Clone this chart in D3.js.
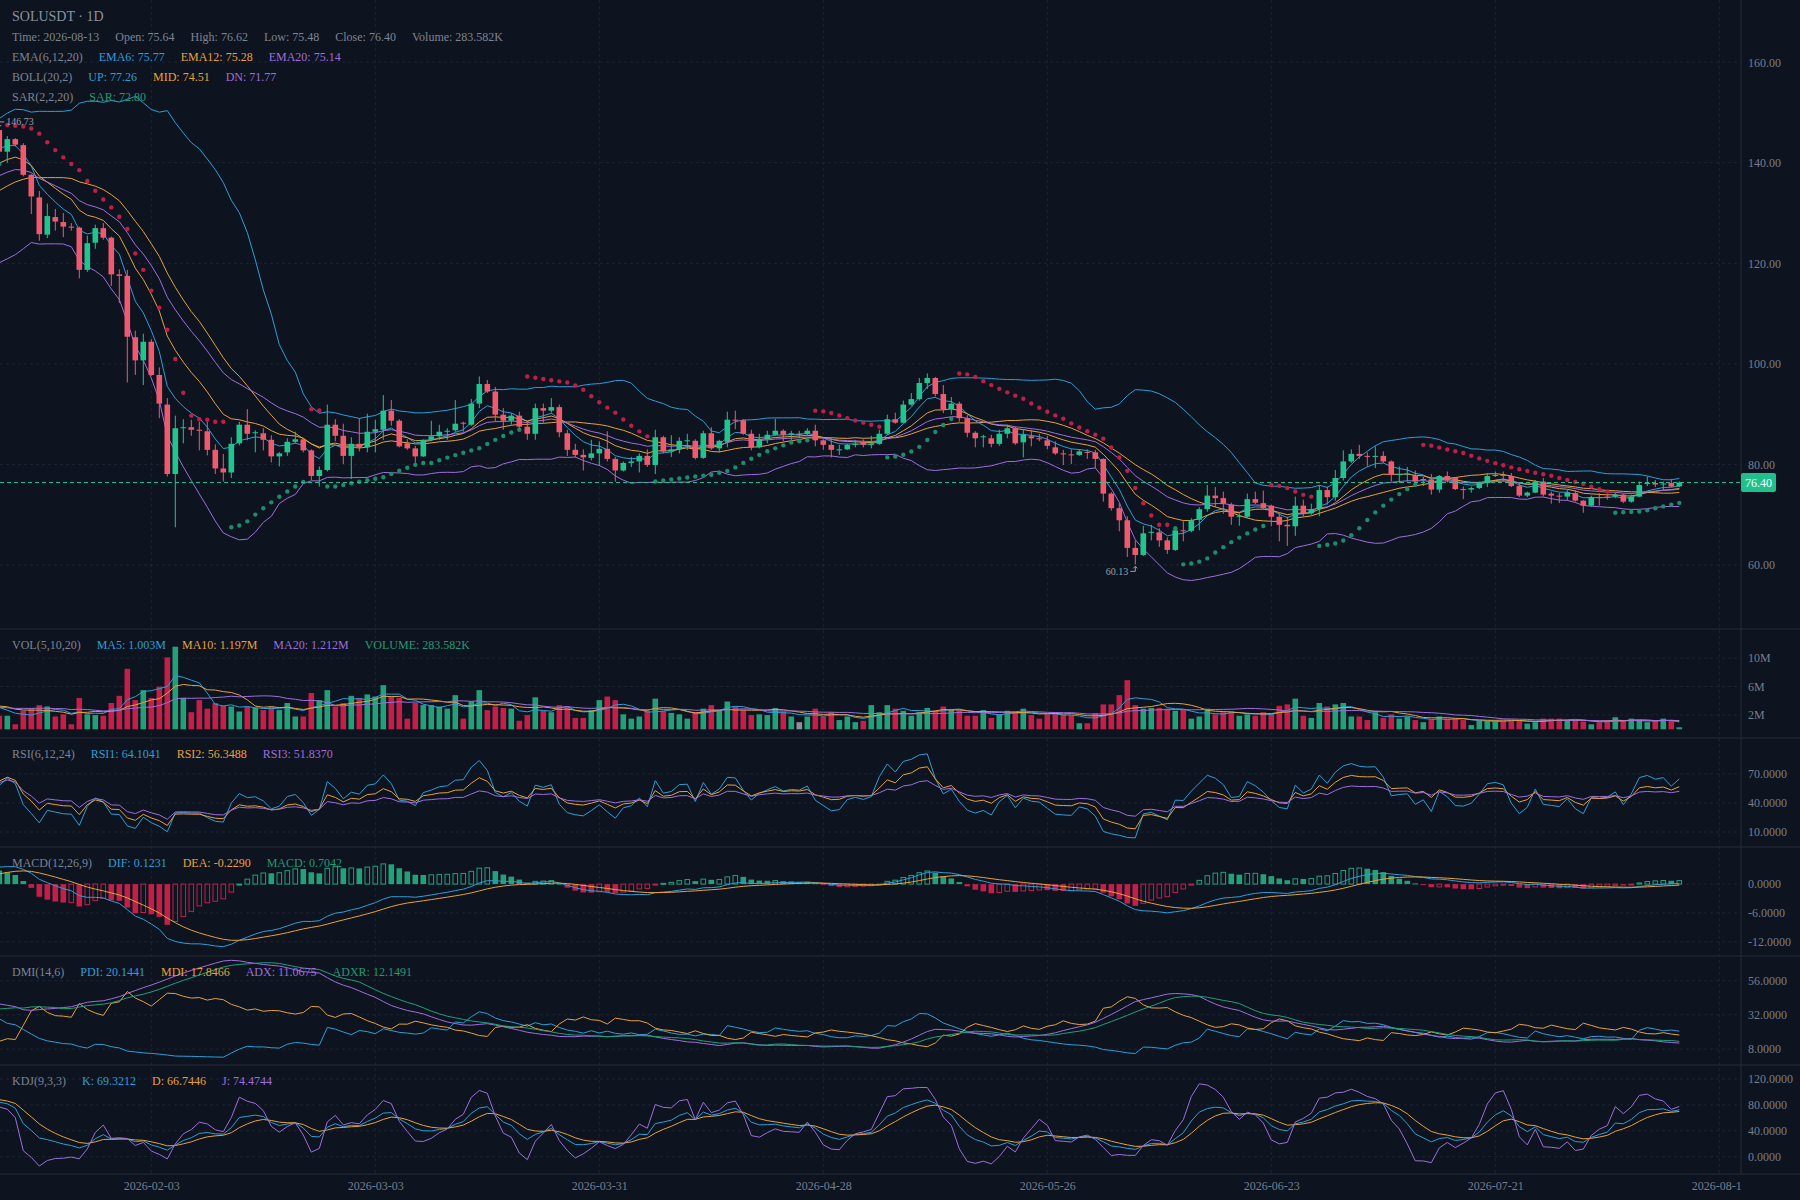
<!DOCTYPE html>
<html>
<head>
<meta charset="utf-8">
<script src="https://cdn.jsdelivr.net/npm/d3@7/dist/d3.min.js"></script>
<style>
  body { margin: 0; background: #0e1320; }
  svg { display: block; font-family: "Liberation Serif", serif; }
</style>
</head>
<body>
<svg id="chart" width="1800" height="1200"></svg>
<script>
// daily bars, first one on startDate (the first 36 sit left of the visible window)
var startDate = "2025-12-11";

var open = [133.2,134.0,135.2,133.8,136.1,137.0,135.5,134.2,135.8,133.1,131.6,132.4,130.5,129.2,130.8,128.6,127.4,126.3,127.7,126.9,
  125.6,127.3,129.1,128.3,127.5,130.2,132.3,131.9,136.1,138.8,138.2,141.5,144.3,143.2,145.5,146.5,
  142.2,144.7,143.5,137.6,133.1,125.7,129.2,128.2,127.3,127.1, 118.7,124.1,127.0,125.1,117.8,117.5,105.3,100.7,104.4,97.8,
  91.9,78.1,87.2,87.4,86.9,86.6,82.9,79.2,78.4,84.2, 87.9,86.3,86.2,84.9,81.6,82.4,84.5,85.0,82.8,77.7,
  78.9,87.9,85.7,81.7,84.1,83.4,86.5,86.9,90.7,88.7, 84.2,83.2,81.6,84.9,85.6,86.5,86.8,88.3,87.9,92.1,
  96.0,94.5,89.9,88.7,89.7,87.5,86.1,91.2,90.7,91.4, 86.2,82.9,81.9,81.3,82.2,83.1,81.1,78.8,80.3,80.6,
  81.7,79.9,85.4,82.6,83.0,84.6,84.7,81.3,86.2,83.2, 84.5,88.9,88.8,86.1,83.4,85.0,85.9,86.7,86.0,86.1,
  86.1,86.7,84.8,83.9,82.9,83.0,83.9,84.4,84.0,84.1, 86.1,89.0,88.3,91.9,93.0,96.2,97.2,94.0,91.0,92.1,
  89.2,86.3,85.4,85.2,84.1,86.1,87.2,84.4,85.6,85.2, 84.8,83.4,82.2,82.0,81.9,82.5,82.4,81.1,74.2,71.3,
  68.9,63.4,62.0,66.4,66.5,64.9,63.0,66.9,66.8,69.0, 71.1,73.8,73.3,72.0,69.6,69.6,73.1,72.3,71.8,69.6,
  68.0,67.7,71.8,70.3,71.1,74.9,73.5,77.3,80.6,82.1, 81.7,81.6,81.7,80.6,77.9,78.0,77.9,77.0,77.0,75.0,
  77.7,77.3,75.1,75.0,75.3,76.3,77.7,77.9,77.7,75.7, 73.8,74.4,76.6,74.2,73.8,73.6,74.3,72.8,71.8,73.5,
  73.6,73.6,74.0,72.6,73.6,76.2,76.3,76.1,76.3,75.64];
var high = [135.1,136.0,135.9,136.8,138.2,137.6,136.1,136.5,136.2,133.9,133.3,133.0,131.2,131.7,131.4,129.5,128.2,128.6,128.4,127.5,
  128.1,130.0,129.8,129.0,131.0,133.1,133.0,136.9,139.6,139.9,142.3,145.0,145.1,146.2,147.5,146.73,
  145.3,144.9,143.9,137.8,134.4,131.9,130.8,130.0,128.0,127.3, 125.5,127.7,128.0,125.3,118.8,118.7,106.6,106.0,104.9,99.3,
  93.2,89.7,89.0,88.9,88.5,88.5,84.0,82.1,85.4,88.5, 91.0,86.8,87.2,85.8,82.5,85.2,86.5,85.2,83.0,79.6,
  91.9,89.0,88.1,85.4,89.2,90.1,88.9,93.8,92.8,89.0, 85.0,83.7,85.0,88.7,87.9,87.2,92.8,88.5,93.0,97.5,
  96.8,95.4,91.2,90.2,90.5,88.7,92.1,92.1,93.2,91.9, 86.9,84.1,83.0,84.9,84.6,86.6,81.5,80.6,81.5,82.2,
  83.0,86.9,85.7,85.8,85.4,86.1,85.0,86.7,87.4,84.9, 90.5,90.7,89.0,86.9,86.1,86.7,89.1,87.0,86.7,86.7,
  87.2,87.9,85.0,85.4,83.9,84.1,84.9,85.0,85.7,86.9, 89.9,90.3,92.7,94.2,97.2,98.1,97.4,95.8,93.4,92.5,
  89.8,86.6,85.9,85.9,86.9,87.9,87.5,87.0,86.9,86.1, 85.7,84.6,82.9,83.0,83.0,83.0,82.9,81.2,74.5,72.3,
  69.7,64.9,67.8,68.0,67.3,65.5,67.3,68.7,69.3,71.5, 75.9,75.5,74.6,72.4,70.3,74.2,74.6,74.8,72.0,70.3,
  69.6,73.6,73.0,72.2,75.9,75.6,78.9,82.8,83.0,83.9, 82.4,83.6,82.6,80.8,79.6,79.5,78.8,77.5,78.1,77.9,
  78.6,77.5,75.6,75.6,76.6,78.3,78.6,78.6,78.3,76.3, 74.6,76.9,77.3,74.6,74.3,74.9,74.9,72.9,73.8,74.3,
  74.2,74.4,74.2,74.0,76.6,77.6,76.9,76.6,77.1,76.62];
var low = [132.5,133.4,133.1,133.2,135.4,134.9,133.6,133.7,132.6,130.9,130.8,129.9,128.5,128.6,128.0,126.8,125.5,125.8,126.2,124.9,
  125.1,126.8,127.6,126.7,127.0,129.6,131.0,131.4,135.5,137.4,137.8,140.9,142.5,142.8,144.9,141.6,
  140.0,143.2,137.3,129.8,124.5,125.0,126.5,125.2,126.5,117.0, 118.3,122.9,124.7,115.5,112.1,96.3,97.8,95.8,97.6,89.2,
  77.6,67.5,84.2,85.7,82.8,81.8,78.1,76.6,77.3,83.8, 84.8,82.4,82.8,80.4,79.6,81.7,84.2,82.4,76.9,75.6,
  78.6,84.6,80.1,77.1,82.6,82.4,82.4,84.9,87.7,83.4, 82.9,80.3,81.5,84.6,84.9,84.9,86.5,86.5,87.7,91.2,
  94.2,88.5,86.9,87.9,86.9,84.9,84.9,88.3,90.3,85.4, 81.7,81.4,78.8,80.8,79.7,80.6,76.6,78.6,79.5,78.4,
  79.5,78.1,82.2,81.5,82.2,82.9,81.0,81.1,82.9,82.4, 83.4,87.0,85.9,82.8,83.2,84.2,85.7,84.6,84.8,85.2,
  85.7,83.6,82.9,81.4,81.9,82.9,83.4,83.4,83.2,83.9, 85.9,88.1,88.2,91.7,92.7,95.0,93.5,90.2,89.9,88.5,
  85.4,83.4,83.4,83.4,83.7,85.2,83.9,81.4,83.6,84.6, 83.0,81.9,79.9,80.1,81.7,81.1,79.3,72.6,70.8,66.7,
  61.6,60.13,61.8,64.9,63.6,62.2,62.8,64.7,66.5,66.9, 70.6,71.5,70.2,68.0,67.8,69.3,72.1,71.0,67.7,64.7,
  63.8,65.8,69.6,70.0,69.7,72.0,72.8,76.8,80.3,81.1, 79.6,79.3,80.3,76.6,76.3,76.6,76.4,75.7,74.0,74.4,
  76.4,74.9,73.1,74.4,75.1,75.5,77.5,76.6,75.5,73.5, 73.5,74.3,73.6,72.2,72.3,72.9,72.6,70.4,71.6,71.8,
  73.0,73.3,72.3,72.4,73.5,75.7,75.5,74.9,75.5,75.48];
var close = [134.0,135.2,133.8,136.1,137.0,135.5,134.2,135.8,133.1,131.6,132.4,130.5,129.2,130.8,128.6,127.4,126.3,127.7,126.9,125.6,
  127.3,129.1,128.3,127.5,130.2,132.3,131.9,136.1,138.8,138.2,141.5,144.3,143.2,145.5,146.5,142.2,
  144.7,143.6,137.6,133.3,125.8,129.4,128.3,127.3,127.1,118.7, 124.0,127.0,125.1,117.8,117.5,105.4,100.7,104.4,97.8,92.1,
  78.1,87.2,87.4,86.9,86.8,82.9,79.2,78.4,84.1,87.9, 86.1,86.4,84.9,81.6,82.2,84.5,85.0,82.8,77.7,78.9,
  87.9,85.7,81.7,84.1,83.4,86.5,87.0,90.7,88.7,83.6, 83.2,81.6,84.9,85.6,86.5,86.7,88.1,88.2,92.1,96.0,
  94.5,89.9,88.7,89.7,87.5,86.1,91.2,90.7,91.4,86.4, 82.9,81.9,81.4,82.2,83.1,81.1,78.8,80.3,80.6,81.7,
  79.9,85.4,82.6,83.0,84.7,84.8,81.3,86.2,83.2,84.7, 88.9,88.8,86.1,83.4,85.0,85.9,86.7,85.9,86.2,86.1,
  86.7,84.8,83.9,82.9,83.0,83.9,84.1,83.9,84.1,86.1, 89.0,88.3,91.9,93.0,96.2,97.2,94.0,91.0,92.1,89.2,
  86.3,85.2,85.6,84.1,86.1,87.2,84.2,85.9,85.2,85.0, 83.7,82.2,82.0,81.9,82.6,82.3,81.1,74.2,71.3,68.9,
  63.4,62.0,66.3,66.6,64.9,63.0,66.9,66.8,68.9,71.1, 73.8,73.3,72.2,69.6,69.8,73.1,72.4,71.3,69.6,68.0,
  67.7,71.8,70.3,71.1,74.9,73.5,77.3,80.6,82.1,81.7, 81.6,81.7,80.6,77.9,78.1,78.2,76.6,77.1,75.0,77.7,
  76.8,75.1,75.0,75.3,76.3,77.7,77.9,77.7,75.7,73.8, 74.4,76.6,74.0,73.8,73.6,74.4,72.8,71.8,73.5,73.4,
  73.5,74.0,72.6,73.6,75.9,76.3,76.0,76.2,75.6,76.40];
// volume in millions
var volume = [2.6,2.9,3.1,2.4,3.3,2.8,2.5,2.2,3.0,3.4,2.7,3.1,3.6,2.5,3.2,2.9,3.3,2.6,2.4,3.0,
  2.8,3.5,2.6,2.3,3.2,3.6,2.9,4.0,3.8,3.1,3.4,3.9,2.8,3.3,3.5,1.9,
  1.9,0.7,2.6,2.9,3.4,3.2,1.8,2.1,0.7,4.4, 2.1,2.0,1.9,3.7,4.7,8.5,4.1,5.5,4.4,6.0,
  10.1,11.6,4.4,2.4,4.1,2.9,3.7,3.3,3.2,2.5, 3.2,3.0,2.7,3.2,2.7,3.7,1.8,1.8,5.1,4.1,
  5.5,3.2,3.7,4.7,4.4,4.9,4.6,6.2,4.6,4.4, 1.5,3.7,3.4,3.4,3.2,2.9,4.8,1.5,3.9,5.5,
  2.7,3.2,3.0,2.9,1.2,2.0,4.5,2.6,2.4,3.4, 3.2,1.6,1.6,2.7,4.1,4.6,4.1,2.1,1.5,1.8,
  2.6,4.3,2.6,2.3,2.1,1.5,2.4,2.9,3.4,2.7, 3.9,3.2,2.7,2.0,2.1,2.0,3.0,2.5,1.8,1.0,
  1.8,2.9,1.8,2.4,1.3,1.8,1.0,1.2,3.4,2.4, 3.4,2.9,2.6,1.9,2.4,3.0,2.6,3.2,2.7,2.7,
  1.9,1.9,2.7,1.6,2.1,2.6,2.4,2.9,2.0,1.5, 2.1,2.4,2.0,2.0,0.85,0.85,2.3,3.5,3.5,4.8,
  6.9,3.4,2.9,3.0,3.0,2.9,2.6,2.7,1.5,1.8, 2.9,2.1,2.4,2.5,1.9,2.1,1.9,2.4,2.1,3.3,
  3.5,4.3,1.9,1.6,3.7,3.2,3.5,3.7,1.8,1.8, 1.3,2.4,1.6,2.1,1.5,1.8,1.3,1.0,1.3,1.8,
  1.5,1.5,1.3,0.6,1.2,1.2,1.2,1.2,1.3,1.3, 0.8,1.0,1.5,1.5,1.5,1.2,1.3,1.1,0.7,1.0,
  1.2,1.7,1.2,1.5,1.2,1.0,1.2,1.5,1.2,0.284];

var xTicks = ["2026-02-03","2026-03-03","2026-03-31","2026-04-28","2026-05-26","2026-06-23","2026-07-21","2026-08-18"];
var priceTicks = [60, 80, 100, 120, 140, 160];
var volTicks = [2, 6, 10];
var rsiTicks = [10, 40, 70];
var macdTicks = [-12, -6, 0];
var dmiTicks = [8, 32, 56];
var kdjTicks = [0, 40, 80, 120];

var titleText = "SOLUSDT · 1D";
var infoLegend = ["Time: 2026-08-13", "Open: 75.64", "High: 76.62", "Low: 75.48", "Close: 76.40", "Volume: 283.582K"];
var emaLegend = ["EMA(6,12,20)", "EMA6: 75.77", "EMA12: 75.28", "EMA20: 75.14"];
var bollLegend = ["BOLL(20,2)", "UP: 77.26", "MID: 74.51", "DN: 71.77"];
var sarLegend = ["SAR(2,2,20)", "SAR: 72.80"];
var volLegend = ["VOL(5,10,20)", "MA5: 1.003M", "MA10: 1.197M", "MA20: 1.212M", "VOLUME: 283.582K"];
var rsiLegend = ["RSI(6,12,24)", "RSI1: 64.1041", "RSI2: 56.3488", "RSI3: 51.8370"];
var macdLegend = ["MACD(12,26,9)", "DIF: 0.1231", "DEA: -0.2290", "MACD: 0.7042"];
var dmiLegend = ["DMI(14,6)", "PDI: 20.1441", "MDI: 17.8466", "ADX: 11.0675", "ADXR: 12.1491"];
var kdjLegend = ["KDJ(9,3,3)", "K: 69.3212", "D: 66.7446", "J: 74.4744"];

// colours
var BG = "#0e1320", GRID = "#1e2432", SEP = "#272d39", AXIS_TXT = "#767e8b", GRAY = "#7c8491";
var BLUE = "#2c9fd6", ORANGE = "#e6a23c", PURPLE = "#9d6fdc", GREEN_TXT = "#239a72";
var UP = "#22c48e", DOWN = "#ef5a6f", FLAT = "#8a8f99";
var VUP = "#23a077", VDOWN = "#c41f48";

var W = 1741; // plot right edge (price axis line)

var svg = d3.select("#chart");
svg.append("rect").attr("width", 1800).attr("height", 1200).attr("fill", BG);

//------------------------------------------------------------ scales
var parseDay = d3.utcParse("%Y-%m-%d");
var dayMs = 864e5;
var t0 = parseDay(startDate).getTime();
var dates = close.map(function(d, i) { return new Date(t0 + i * dayMs); });
var leftEdge = parseDay("2026-01-16").getTime() - 0.9125 * dayMs;
var x = d3.scaleUtc()
  .domain([new Date(leftEdge), new Date(leftEdge + W / 8 * dayMs)])
  .range([0, W]);

var yPrice = d3.scaleLinear().domain([160, 60]).range([62.2, 565]);
var yVol = d3.scaleLinear().domain([10, 0]).range([658.1, 729.3]);
var yRsi = d3.scaleLinear().domain([70, 10]).range([773.9, 832.0]);
var yMacd = d3.scaleLinear().domain([0, -12]).range([884.1, 941.8]);
var yDmi = d3.scaleLinear().domain([56, 8]).range([980.6, 1049.1]);
var yKdj = d3.scaleLinear().domain([120, 0]).range([1079.0, 1156.7]);

//------------------------------------------------------------ indicators
function emaCalc(src, n) {
  var prev, out = [];
  src.forEach(function(v, i) {
    prev = i === 0 ? v : (2 * v + (n - 1) * prev) / (n + 1);
    out.push(prev);
  });
  return out;
}
function maCalc(src, n) {
  var sum = 0, out = [];
  src.forEach(function(v, i) {
    sum += v;
    if (i >= n) sum -= src[i - n];
    out.push(i >= n - 1 ? sum / n : null);
  });
  return out;
}

var ema6 = emaCalc(close, 6), ema12 = emaCalc(close, 12), ema20 = emaCalc(close, 20);

var bollMid = maCalc(close, 20), bollUp = [], bollDn = [];
close.forEach(function(c, i) {
  if (bollMid[i] == null) { bollUp.push(null); bollDn.push(null); return; }
  var s = 0;
  for (var j = i - 19; j <= i; j++) s += Math.pow(close[j] - bollMid[i], 2);
  var sd = Math.sqrt(s / 20);
  bollUp.push(bollMid[i] + 2 * sd);
  bollDn.push(bollMid[i] - 2 * sd);
});

function sarCalc(startAf, step, maxAf) {
  var af = startAf, ep = high[0], up = true, sar = low[0], out = [low[0]];
  for (var i = 1; i < close.length; i++) {
    sar = sar + af * (ep - sar);
    if (up) {
      sar = Math.min(sar, low[i - 1], low[Math.max(0, i - 2)]);
      if (low[i] < sar) { up = false; sar = ep; ep = low[i]; af = startAf; }
      else if (high[i] > ep) { ep = high[i]; af = Math.min(af + step, maxAf); }
    } else {
      sar = Math.max(sar, high[i - 1], high[Math.max(0, i - 2)]);
      if (high[i] > sar) { up = true; sar = ep; ep = high[i]; af = startAf; }
      else if (low[i] < ep) { ep = low[i]; af = Math.min(af + step, maxAf); }
    }
    out.push(sar);
  }
  return out;
}
var sar = sarCalc(0.02, 0.02, 0.2);

var volMa5 = maCalc(volume, 5), volMa10 = maCalc(volume, 10), volMa20 = maCalc(volume, 20);

// RSI with smoothed gains / losses
function rsiCalc(n) {
  var up = 0, dn = 0;
  return close.map(function(c, i) {
    if (i === 0) return null;
    var d = c - close[i - 1];
    up = (Math.max(d, 0) + (n - 1) * up) / n;
    dn = (Math.max(-d, 0) + (n - 1) * dn) / n;
    return up + dn === 0 ? 50 : 100 * up / (up + dn);
  });
}
var rsi1 = rsiCalc(6), rsi2 = rsiCalc(12), rsi3 = rsiCalc(24);

var ema26 = emaCalc(close, 26);
var dif = ema12.map(function(v, i) { return v - ema26[i]; });
var dea = emaCalc(dif, 9);
var macdHist = dif.map(function(v, i) { return 2 * (v - dea[i]); });

// DMI(14,6): Wilder smoothing, ADX smoothed over 14, ADXR against ADX 5 bars back
var pdi = [], mdi = [], adx = [], adxr = [];
(function() {
  var n = 14, m = 6, mtr = 0, dmp = 0, dmm = 0, trSum = 0, hSum = 0, lSum = 0, dxSum = 0, a = 0;
  close.forEach(function(c, i) {
    var pc = i === 0 ? close[0] : close[i - 1], ph = i === 0 ? high[0] : high[i - 1], pl = i === 0 ? low[0] : low[i - 1];
    var tr = Math.max(high[i] - low[i], Math.abs(high[i] - pc), Math.abs(pc - low[i]));
    var hh = high[i] - ph, ll = pl - low[i];
    var h = hh > 0 && hh > ll ? hh : 0, l = ll > 0 && ll > hh ? ll : 0;
    trSum += tr; hSum += h; lSum += l;
    pdi.push(null); mdi.push(null); adx.push(null); adxr.push(null);
    if (i < n - 1) return;
    if (i > n - 1) { mtr = mtr - mtr / n + tr; dmp = dmp - dmp / n + h; dmm = dmm - dmm / n + l; }
    else { mtr = trSum; dmp = hSum; dmm = lSum; }
    var P = mtr ? dmp * 100 / mtr : 0, M = mtr ? dmm * 100 / mtr : 0;
    pdi[i] = P; mdi[i] = M;
    var dx = P + M ? Math.abs(M - P) / (P + M) * 100 : 0;
    dxSum += dx;
    if (i < 2 * n - 2) return;
    a = i > 2 * n - 2 ? (a * (n - 1) + dx) / n : dxSum / n;
    adx[i] = a;
    if (i >= 2 * n + m - 3) adxr[i] = (adx[i - (m - 1)] + a) / 2;
  });
})();

var kArr = [], dArr = [], jArr = [];
(function() {
  var k = 50, d = 50;
  close.forEach(function(c, i) {
    var lo = d3.min(low.slice(Math.max(0, i - 8), i + 1)), hi = d3.max(high.slice(Math.max(0, i - 8), i + 1));
    var rsv = hi === lo ? 50 : (c - lo) / (hi - lo) * 100;
    k = (2 * k + rsv) / 3;
    d = (2 * d + k) / 3;
    kArr.push(k); dArr.push(d); jArr.push(3 * k - 2 * d);
  });
})();

//------------------------------------------------------------ frame, grid, separators
var panels = [[0, 629], [629, 738], [738, 847], [847, 956], [956, 1065], [1065, 1174]];
var tickDates = xTicks.map(parseDay);

var grid = svg.append("g").attr("class", "grid");
tickDates.forEach(function(d) {
  grid.append("line").attr("x1", x(d)).attr("x2", x(d)).attr("y1", 0).attr("y2", 1174)
    .attr("stroke", GRID).attr("stroke-dasharray", "3,3");
});
function hGrid(scale, ticks) {
  ticks.forEach(function(t) {
    grid.append("line").attr("x1", 0).attr("x2", W).attr("y1", scale(t)).attr("y2", scale(t))
      .attr("stroke", GRID).attr("stroke-dasharray", "3,3");
  });
}
hGrid(yPrice, priceTicks); hGrid(yVol, volTicks); hGrid(yRsi, rsiTicks);
hGrid(yMacd, macdTicks); hGrid(yDmi, dmiTicks); hGrid(yKdj, kdjTicks);

panels.forEach(function(p, i) {
  if (i > 0) svg.append("line").attr("x1", 0).attr("x2", 1800).attr("y1", p[0]).attr("y2", p[0]).attr("stroke", SEP);
});
svg.append("line").attr("x1", 0).attr("x2", 1800).attr("y1", 1174).attr("y2", 1174).attr("stroke", SEP);
svg.append("line").attr("x1", W).attr("x2", W).attr("y1", 0).attr("y2", 1174).attr("stroke", SEP);

// clip paths, one per panel
var defs = svg.append("defs");
panels.forEach(function(p, i) {
  defs.append("clipPath").attr("id", "clip" + i)
    .append("rect").attr("x", 0).attr("y", p[0]).attr("width", W).attr("height", p[1] - p[0]);
});
defs.append("clipPath").attr("id", "clipX").append("rect").attr("x", 0).attr("y", 1174).attr("width", W).attr("height", 26);

function panelG(i) { return svg.append("g").attr("clip-path", "url(#clip" + i + ")"); }

function drawLine(g, values, scale, color) {
  g.append("path").datum(values)
    .attr("fill", "none").attr("stroke", color).attr("stroke-width", 1)
    .attr("d", d3.line()
      .defined(function(d) { return d != null && !isNaN(d); })
      .x(function(d, i) { return x(dates[i]); })
      .y(function(d) { return scale(d); }));
}
function dirColor(i, up, down) {
  return close[i] > open[i] ? up : close[i] < open[i] ? down : FLAT;
}

//------------------------------------------------------------ main panel
var mainG = panelG(0);
drawLine(mainG, bollUp, yPrice, BLUE);
drawLine(mainG, bollMid, yPrice, ORANGE);
drawLine(mainG, bollDn, yPrice, PURPLE);
drawLine(mainG, ema6, yPrice, BLUE);
drawLine(mainG, ema12, yPrice, ORANGE);
drawLine(mainG, ema20, yPrice, PURPLE);

var bw = 5.6;
var candle = mainG.selectAll("g.candle").data(close).enter().append("g").attr("class", "candle");
candle.append("line")
  .attr("x1", function(d, i) { return x(dates[i]); })
  .attr("x2", function(d, i) { return x(dates[i]); })
  .attr("y1", function(d, i) { return yPrice(high[i]); })
  .attr("y2", function(d, i) { return yPrice(low[i]); })
  .attr("stroke", function(d, i) { return dirColor(i, UP, DOWN); })
  .attr("stroke-width", 1);
candle.append("rect")
  .attr("x", function(d, i) { return x(dates[i]) - bw / 2; })
  .attr("width", bw)
  .attr("y", function(d, i) { return yPrice(Math.max(open[i], close[i])); })
  .attr("height", function(d, i) { return Math.max(1, Math.abs(yPrice(open[i]) - yPrice(close[i]))); })
  .attr("fill", function(d, i) { return dirColor(i, UP, DOWN); });

mainG.selectAll("circle.sar").data(sar).enter().append("circle")
  .attr("cx", function(d, i) { return x(dates[i]); })
  .attr("cy", function(d) { return yPrice(d); })
  .attr("r", 2.2)
  .attr("fill", function(d, i) { return d > high[i] ? "#c21d47" : "#1f8c69"; });

// last price line
var lastI = close.length - 1;
var lastY = yPrice(close[lastI]);
svg.append("line").attr("x1", 0).attr("x2", W).attr("y1", lastY).attr("y2", lastY)
  .attr("stroke", UP).attr("stroke-dasharray", "4,3");
svg.append("rect").attr("x", W).attr("y", lastY - 9.5).attr("width", 35).attr("height", 19).attr("rx", 2).attr("fill", "#1fc08c");
svg.append("text").attr("x", W + 17.5).attr("y", lastY).attr("dy", "0.35em").attr("text-anchor", "middle")
  .attr("fill", "#ffffff").style("font-size", "12px").text(close[lastI].toFixed(2));

// highest / lowest marks of visible bars
var visible = d3.range(close.length).filter(function(i) { var cx = x(dates[i]); return cx > -4 && cx < W; });
var hiI = visible.reduce(function(a, b) { return high[b] > high[a] ? b : a; });
var loI = visible.reduce(function(a, b) { return low[b] < low[a] ? b : a; });
function extremeMark(i, isHigh) {
  var cx = x(dates[i]), py = yPrice(isHigh ? high[i] : low[i]);
  var dir = isHigh ? -1 : 1, sy = py + 2 * dir, ly = sy + 5 * dir;
  var right = cx < W / 2, ex = right ? cx + 5 : cx - 5;
  mainG.append("path")
    .attr("d", "M" + (cx - 2) + "," + (sy + 2 * dir) + "L" + cx + "," + sy + "L" + (cx + 2) + "," + (sy + 2 * dir) +
      "M" + cx + "," + sy + "L" + cx + "," + ly + "L" + ex + "," + ly)
    .attr("fill", "none").attr("stroke", "#9aa0aa").attr("stroke-width", 1);
  svg.append("text").attr("x", right ? ex + 2 : ex - 2).attr("y", ly).attr("dy", "0.35em")
    .attr("text-anchor", right ? "start" : "end").attr("fill", "#9aa0aa").style("font-size", "10px")
    .text(isHigh ? high[i].toFixed(2) : low[i].toFixed(2));
}
extremeMark(hiI, true);
extremeMark(loI, false);

//------------------------------------------------------------ volume
var volG = panelG(1);
volG.selectAll("rect").data(volume).enter().append("rect")
  .attr("x", function(d, i) { return x(dates[i]) - bw / 2; })
  .attr("width", bw)
  .attr("y", function(d) { return yVol(d); })
  .attr("height", function(d) { return yVol(0) - yVol(d); })
  .attr("fill", function(d, i) { return dirColor(i, VUP, VDOWN); });
drawLine(volG, volMa5, yVol, BLUE);
drawLine(volG, volMa10, yVol, ORANGE);
drawLine(volG, volMa20, yVol, PURPLE);

//------------------------------------------------------------ RSI
var rsiG = panelG(2);
drawLine(rsiG, rsi1, yRsi, BLUE);
drawLine(rsiG, rsi2, yRsi, ORANGE);
drawLine(rsiG, rsi3, yRsi, PURPLE);

//------------------------------------------------------------ MACD
var macdG = panelG(3);
macdG.selectAll("rect").data(macdHist).enter().append("rect")
  .each(function(d, i) {
    var color = d > 0 ? VUP : d < 0 ? VDOWN : FLAT;
    var hollow = i > 0 && macdHist[i - 1] < d;
    var y0 = yMacd(0), y1 = yMacd(d);
    var top = Math.min(y0, y1), h = Math.max(1, Math.abs(y1 - y0));
    d3.select(this)
      .attr("x", x(dates[i]) - bw / 2 + (hollow ? 0.5 : 0))
      .attr("width", hollow ? bw - 1 : bw)
      .attr("y", top)
      .attr("height", h)
      .attr("fill", hollow ? "none" : color)
      .attr("stroke", hollow ? color : "none");
  });
drawLine(macdG, dif, yMacd, BLUE);
drawLine(macdG, dea, yMacd, ORANGE);

//------------------------------------------------------------ DMI
var dmiG = panelG(4);
drawLine(dmiG, pdi, yDmi, BLUE);
drawLine(dmiG, mdi, yDmi, ORANGE);
drawLine(dmiG, adx, yDmi, PURPLE);
drawLine(dmiG, adxr, yDmi, "#1fa079");

//------------------------------------------------------------ KDJ
var kdjG = panelG(5);
drawLine(kdjG, kArr, yKdj, BLUE);
drawLine(kdjG, dArr, yKdj, ORANGE);
drawLine(kdjG, jArr, yKdj, PURPLE);

//------------------------------------------------------------ axes
function yAxis(scale, ticks, fmt) {
  var g = svg.append("g").attr("transform", "translate(" + W + ",0)")
    .call(d3.axisRight(scale).tickValues(ticks).tickFormat(fmt).tickSize(0).tickPadding(7));
  g.select(".domain").remove();
  g.attr("font-family", null).attr("font-size", null);
  g.selectAll("text").attr("fill", AXIS_TXT).style("font-size", "12px");
}
yAxis(yPrice, priceTicks, function(d) { return d.toFixed(2); });
yAxis(yVol, volTicks, function(d) { return d + "M"; });
yAxis(yRsi, rsiTicks, function(d) { return d.toFixed(4); });
yAxis(yMacd, macdTicks, function(d) { return d.toFixed(4); });
yAxis(yDmi, dmiTicks, function(d) { return d.toFixed(4); });
yAxis(yKdj, kdjTicks, function(d) { return d.toFixed(4); });

var xg = svg.append("g").attr("clip-path", "url(#clipX)").append("g")
  .attr("transform", "translate(0,1174)")
  .call(d3.axisBottom(x).tickValues(tickDates).tickFormat(d3.utcFormat("%Y-%m-%d")).tickSize(0).tickPadding(7));
xg.select(".domain").remove();
xg.attr("font-family", null).attr("font-size", null);
xg.selectAll("text").attr("fill", AXIS_TXT).style("font-size", "12px");

//------------------------------------------------------------ legends
function legendRow(y, texts, colors) {
  var xPos = 12;
  texts.forEach(function(t, i) {
    var el = svg.append("text").attr("x", xPos).attr("y", y).attr("fill", colors[i])
      .style("font-size", "12px").text(t);
    xPos += el.node().getComputedTextLength() + 16;
  });
}
svg.append("text").attr("x", 12).attr("y", 20.5).attr("fill", "#8b929e").style("font-size", "14px").text(titleText);
legendRow(40.7, infoLegend, infoLegend.map(function() { return GRAY; }));
legendRow(60.7, emaLegend, [GRAY, BLUE, ORANGE, PURPLE]);
legendRow(80.7, bollLegend, [GRAY, BLUE, ORANGE, PURPLE]);
legendRow(100.7, sarLegend, [GRAY, GREEN_TXT]);
legendRow(629 + 20, volLegend, [GRAY, BLUE, ORANGE, PURPLE, GREEN_TXT]);
legendRow(738 + 20, rsiLegend, [GRAY, BLUE, ORANGE, PURPLE]);
legendRow(847 + 20, macdLegend, [GRAY, BLUE, ORANGE, GREEN_TXT]);
legendRow(956 + 20, dmiLegend, [GRAY, BLUE, ORANGE, PURPLE, GREEN_TXT]);
legendRow(1065 + 20, kdjLegend, [GRAY, BLUE, ORANGE, PURPLE]);
</script>
</body>
</html>
